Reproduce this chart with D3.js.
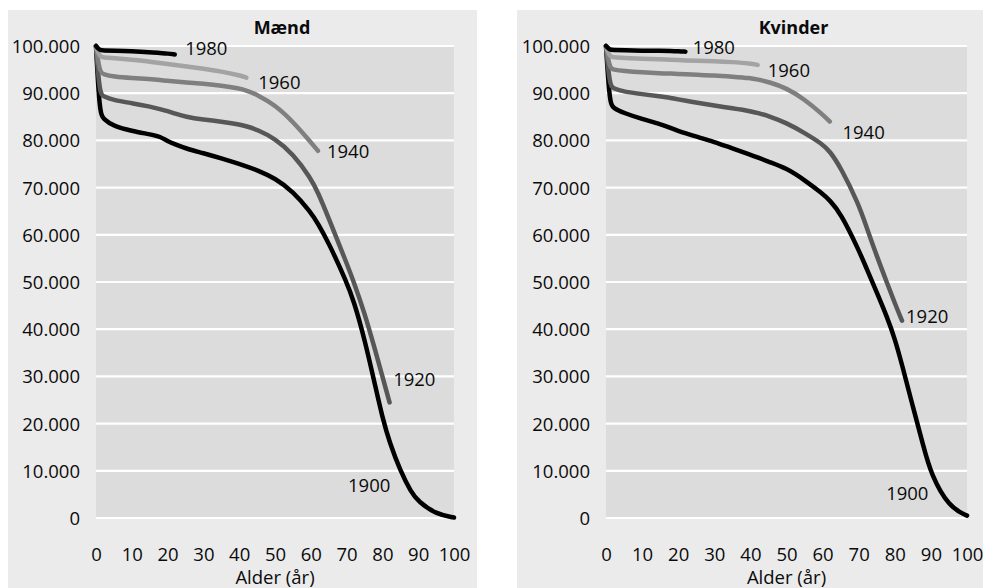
<!DOCTYPE html>
<html><head><meta charset="utf-8">
<script src="https://cdn.jsdelivr.net/npm/d3@7"></script>
<style>
html,body{margin:0;padding:0;background:#fff;}
svg text{fill:#0a0a0a;font-family:"Open Sans",sans-serif;}
</style></head>
<body><svg id="c" width="983" height="588"></svg>
<script>
// Shared age grid (years)
const ages = [0,1,2,5,10,15,18,20,22,25,30,35,40,42,45,50,55,60,62,65,70,72,75,78,80,82,85,88,90,95,100];
const yTicks = [0,10000,20000,30000,40000,50000,60000,70000,80000,90000,100000];
const xTicks = [0,10,20,30,40,50,60,70,80,90,100];
const cohorts = ["1900","1920","1940","1960","1980"];

// Mænd (survivors of 100.000 born)
const men1900 = [100000,86000,84500,83000,82000,81300,80800,79800,79200,78300,77300,76200,75000,74500,73700,72000,69200,64800,62400,58300,50000,46000,38000,28000,21300,16000,10000,5500,3500,800,100];
const men1920 = [100000,90000,89300,88500,87900,87200,86600,86200,85700,85000,84400,84000,83400,83000,82300,80400,77200,72000,69000,63500,54000,50000,43500,35500,30000,24500];
const men1940 = [100000,94500,94000,93500,93200,93000,92800,92600,92500,92300,92000,91600,91000,90600,89700,87500,84000,79600,77800];
const men1960 = [100000,97700,97600,97400,97100,96700,96400,96200,96000,95700,95200,94600,93800,93300];
const men1980 = [100000,99100,99050,99000,98900,98700,98500,98400,98200];

// Kvinder
const women1900 = [100000,88000,86800,85800,84500,83500,82600,82000,81500,80800,79700,78300,77000,76400,75500,74100,71600,68700,67300,64600,56800,53200,47800,42300,38000,32500,23600,15000,9300,2300,500];
const women1920 = [100000,91700,91000,90300,89800,89300,89000,88700,88400,88000,87400,86800,86200,85800,85200,83700,81600,79200,77700,74300,66500,62000,55500,49500,45500,41800];
const women1940 = [100000,95300,95000,94700,94400,94200,94150,94100,94000,93900,93800,93500,93200,92900,92400,91100,88700,85500,84000];
const women1960 = [100000,97700,97600,97500,97300,97200,97100,97000,96950,96900,96800,96600,96300,96000];
const women1980 = [100000,99200,99150,99100,99000,99000,98950,98900,98800];

// Label anchors (age, survivors)
const menLabels   = [[70.4,6900],[83,29300],[64.5,77600],[45.3,92200],[24.9,99400]];
const womenLabels = [[77.6,5100],[83.1,42600],[65.5,81600],[44.8,94900],[24,99600]];

const colors = {"1900":"#000000","1920":"#575757","1940":"#7f7f7f","1960":"#a3a3a3","1980":"#000000"};
const FS = 18.5;

const svg = d3.select("#c");

function panel(cfg){
  const g = svg.append("g");
  g.append("rect").attr("x",cfg.ox).attr("y",cfg.oy).attr("width",cfg.ow).attr("height",cfg.oh).attr("fill","#ebebeb");
  const x = d3.scaleLinear().domain([0,100]).range([cfg.x0,cfg.x1]);
  const y = d3.scaleLinear().domain([0,100000]).range([cfg.y0,cfg.y1]);
  g.append("rect").attr("x",cfg.x0).attr("y",cfg.y1).attr("width",cfg.x1-cfg.x0).attr("height",cfg.y0-cfg.y1).attr("fill","#dcdcdc");
  g.selectAll("line.grid").data(yTicks).join("line").attr("class","grid")
    .attr("x1",cfg.x0).attr("x2",cfg.x1).attr("y1",d=>y(d)).attr("y2",d=>y(d))
    .attr("stroke","#fff").attr("stroke-width",2.2);
  const fmt = d => d3.format(",")(d).replace(/,/g,".");
  const ya = d3.axisLeft(y).tickValues(yTicks).tickFormat(fmt).tickSize(0).tickPadding(16);
  const yg = g.append("g").attr("transform",`translate(${cfg.x0},0)`).call(ya);
  yg.select(".domain").remove();
  yg.selectAll("text").style("font-size",FS+"px").style("font-family",'"Open Sans",sans-serif').attr("fill","#0a0a0a").attr("dy","0.35em");
  const xa = d3.axisBottom(x).tickValues(xTicks).tickSize(0).tickPadding(0);
  const xg = g.append("g").attr("transform",`translate(0,${cfg.y0})`).call(xa);
  xg.select(".domain").remove();
  xg.selectAll("text").style("font-size",FS+"px").style("font-family",'"Open Sans",sans-serif').attr("fill","#0a0a0a").attr("y",37).attr("dy","0.35em");
  g.append("text").attr("x",(cfg.x0+cfg.x1)/2).attr("y",578).attr("dy","0.35em").attr("text-anchor","middle")
    .style("font-size",FS+"px").text("Alder (år)");
  g.append("text").attr("x",(cfg.x0+cfg.x1)/2+7).attr("y",34).attr("text-anchor","middle")
    .style("font-size","18px").style("font-weight","bold").text(cfg.title);
  const line = d3.line().x(d=>x(d[0])).y(d=>y(d[1])).curve(d3.curveBasis);
  cohorts.forEach((c,i)=>{
    const vals = cfg.series[i];
    const pts = vals.map((v,j)=>[ages[j],v]);
    g.append("path").attr("d",line(pts)).attr("fill","none").attr("stroke",colors[c])
      .attr("stroke-width",4.5).attr("stroke-linecap","round").attr("stroke-linejoin","round");
  });
  cohorts.forEach((c,i)=>{
    const l = cfg.labels[i];
    g.append("text").attr("x",x(l[0])).attr("y",y(l[1])).attr("dy","0.35em")
      .style("font-size",FS+"px").text(c);
  });
}

panel({ox:8,oy:10,ow:469,oh:578,x0:96,x1:454,y0:518,y1:46,title:"Mænd",
  series:[men1900,men1920,men1940,men1960,men1980],labels:menLabels});
panel({ox:517,oy:10,ow:466,oh:578,x0:606,x1:967,y0:518,y1:46,title:"Kvinder",
  series:[women1900,women1920,women1940,women1960,women1980],labels:womenLabels});
</script></body></html>
